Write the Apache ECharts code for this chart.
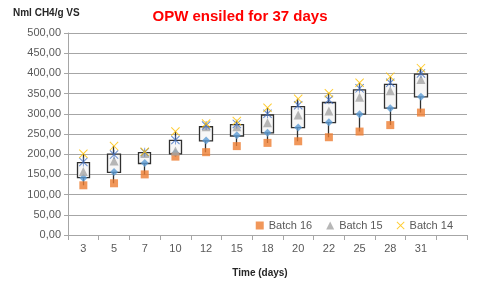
<!DOCTYPE html>
<html>
<head>
<meta charset="utf-8">
<script src="https://cdn.jsdelivr.net/npm/echarts@6/dist/echarts.min.js"></script>
<style>html,body{margin:0;padding:0;background:#fff}#c{width:480px;height:286px}</style>
</head>
<body>
<div id="c"></div>
<script>
const categories = ['3','5','7','10','12','15','18','20','22','25','28','31',''];
const batch16 = [123,128,150,194,205,220,228,232,242,256,272,303];
const batch15 = [157,183,202,208,268,268,278,297,307,341,357,385];
const batch14 = [201,220,206,256,276,282,315,337,351,377,392,413];
const boxLow  = [142,155,177,201,233,245,253,266,278,299,314,342];
const boxHigh = [179,200,204,234,268,273,297,318,328,359,373,398];
const diamondVals = [141,156,178,203,234,247,253,266,279,299,314,342];
const starVals = [181,199,205,235,271,275,300,321,335,363,377,400];

const candleData = boxLow.map((v,i)=>[v, boxHigh[i], batch16[i], batch14[i]]);

const xPath = 'path://M0,0.8 L0.8,0 L10,9.2 L9.2,10 Z M9.2,0 L10,0.8 L0.8,10 L0,9.2 Z';
const starPath = 'path://M0,0.8 L0.8,0 L10,9.2 L9.2,10 Z M9.2,0 L10,0.8 L0.8,10 L0,9.2 Z M4.55,0 L5.45,0 L5.45,10 L4.55,10 Z';

const FONT = 'Liberation Sans';
const chart = echarts.init(document.getElementById('c'));
chart.setOption({
  animation: false,
  textStyle: {fontFamily: FONT},
  grid: {left: 68, right: 13, top: 33, bottom: 51},
  graphic: [
    {type:'text', left: 'center', style:{text:'OPW ensiled for 37 days', x: 238, y: 17, fill:'#FF0000', font:'bold 15px "Liberation Sans"', textAlign:'center', textVerticalAlign:'middle'}, position:[0,0]},
    {type:'text', style:{text:'Nml CH4/g VS', x: 13, y: 13, fill:'#262626', font:'bold 10px "Liberation Sans"', textAlign:'left', textVerticalAlign:'middle'}},
    {type:'text', style:{text:'Time (days)', x: 260, y: 273, fill:'#262626', font:'bold 10px "Liberation Sans"', textAlign:'center', textVerticalAlign:'middle'}}
  ],
  legend: {
    data: ['Batch 16','Batch 15','Batch 14'],
    right: 22, top: 215,
    itemWidth: 8, itemHeight: 8, itemGap: 14,
    textStyle: {color:'#595959', fontSize: 11, fontFamily: FONT}
  },
  xAxis: {
    type: 'category', data: categories, boundaryGap: true,
    axisLine: {lineStyle:{color:'#a6a6a6'}},
    axisTick: {show:true, length:5, lineStyle:{color:'#a6a6a6'}},
    axisLabel: {color:'#595959', fontSize: 11, margin: 8, interval: 0}
  },
  yAxis: {
    type: 'value', min: 0, max: 500, interval: 50,
    axisLine: {show:true, lineStyle:{color:'#a6a6a6'}},
    axisTick: {show:true, length:4, lineStyle:{color:'#a6a6a6'}},
    axisLabel: {color:'#595959', fontSize: 11, margin: 7, formatter: v => v.toFixed(2).replace('.', ',')},
    splitLine: {lineStyle:{color:'#a6a6a6'}}
  },
  series: [
    {type:'candlestick', name:'box', data: candleData, barWidth: 13,
     itemStyle:{color:'#f7f7f7', color0:'#f7f7f7', borderColor:'#303030', borderColor0:'#303030', borderWidth:1.3}, z:1},
    {type:'scatter', name:'low', data: diamondVals, symbol:'diamond', symbolSize:8, itemStyle:{color:'#5B9BD5'}, z:3},
    {type:'scatter', name:'Batch 16', data: batch16, symbol:'rect', symbolSize:8, itemStyle:{color:'#ED7D31'}, z:3},
    {type:'scatter', name:'Batch 15', data: batch15, symbol:'triangle', symbolSize:9, itemStyle:{color:'#A5A5A5'}, z:4},
    {type:'scatter', name:'star', data: starVals, symbol: starPath, symbolSize:9, itemStyle:{color:'#4472C4'}, z:5},
    {type:'scatter', name:'Batch 14', data: batch14, symbol: xPath, symbolSize:9, itemStyle:{color:'#FFC000'}, z:5}
  ]
});
</script>
</body>
</html>
